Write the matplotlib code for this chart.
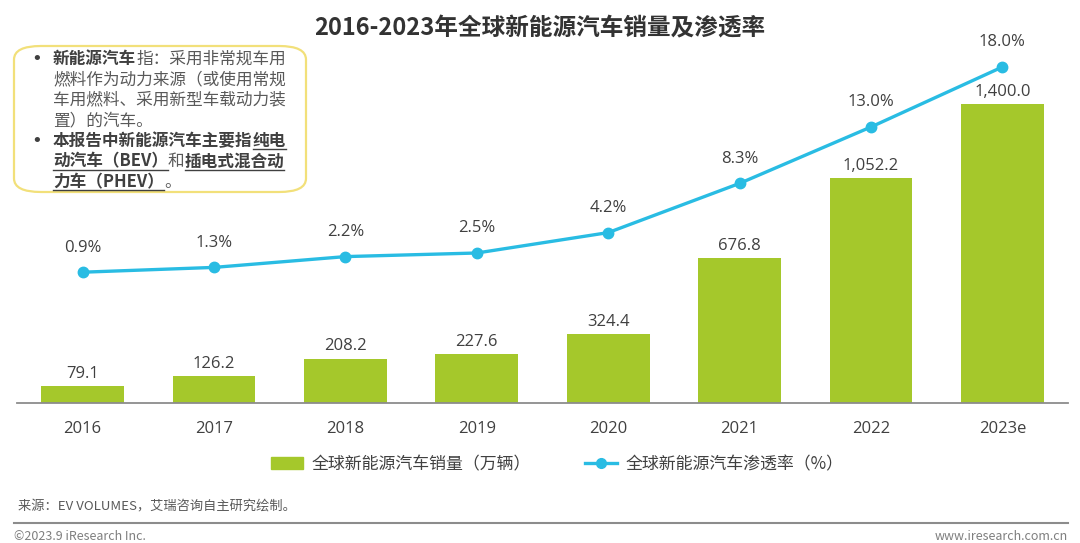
# Global NEV sales and penetration rate, 2016-2023e

import matplotlib
matplotlib.use('Agg')
import matplotlib.pyplot as plt
from matplotlib.patches import FancyBboxPatch, Patch
from matplotlib.lines import Line2D
from matplotlib.text import Annotation

plt.rcParams['font.family'] = ['Noto Sans CJK SC', 'DejaVu Sans']

# Data
years = ['2016', '2017', '2018', '2019', '2020', '2021', '2022', '2023e']
sales = [79.1, 126.2, 208.2, 227.6, 324.4, 676.8, 1052.2, 1400.0]
penetration = [0.9, 1.3, 2.2, 2.5, 4.2, 8.3, 13.0, 18.0]

bar_color = '#a5c82b'
line_color = '#29bce3'
dark = '#404040'
num_font = ['Open Sans', 'Noto Sans CJK SC']

W, H = 1080, 543
fig = plt.figure(figsize=(W / 100, H / 100), dpi=100)

# axes box in pixels
ax_left, ax_right, ax_bottom, ax_top = 17, 1068, 403, 30
ax = fig.add_axes([ax_left / W, 1 - ax_bottom / H, (ax_right - ax_left) / W, (ax_bottom - ax_top) / H])
ax_h = ax_bottom - ax_top

x = list(range(len(years)))
ax.bar(x, sales, width=0.63, color=bar_color, zorder=2)
ax.set_xlim(-0.5, len(years) - 0.5)
ax.set_ylim(0, ax_h / 0.2136)
for xi, v in zip(x, sales):
    ax.annotate(f'{v:,.1f}', (xi, v), xytext=(0, 3), textcoords='offset points',
                ha='center', va='bottom', fontsize=12, color=dark, family=num_font)

for s in ['top', 'left', 'right']:
    ax.spines[s].set_visible(False)
ax.spines['bottom'].set_color('#8c8c8c')
ax.spines['bottom'].set_linewidth(1.3)
ax.set_yticks([])
ax.set_xticks(x)
ax.set_xticklabels(years, fontsize=12, color=dark, family=num_font)
ax.tick_params(axis='x', length=0, pad=13)

# secondary axis for penetration
ax2 = ax.twinx()
zero_px = 120  # pixel height of 0% above the baseline
ax2.set_ylim(-zero_px / 12, (ax_h - zero_px) / 12)
ax2.plot(x, penetration, color=line_color, lw=2.4, marker='o', markersize=7.5, zorder=3)
for xi, v in zip(x, penetration):
    ax2.annotate(f'{v:.1f}%', (xi, v), xytext=(0, 12), textcoords='offset points',
                 ha='center', va='bottom', fontsize=12, color=dark, family=num_font)
ax2.axis('off')

# title
fig.text(0.5, 1 - 28 / H, '2016-2023年全球新能源汽车销量及渗透率', ha='center', va='center',
         fontsize=17, fontweight='bold', color='#333333')

# legend
handles = [Patch(color=bar_color),
           Line2D([0], [0], color=line_color, lw=2.4, marker='o', markersize=7)]
labels = ['全球新能源汽车销量（万辆）', '全球新能源汽车渗透率（%）']
fig.legend(handles, labels, loc='center', bbox_to_anchor=(557 / W, 1 - 464 / H), ncol=2,
           frameon=False, fontsize=12.2, handlelength=1.9, columnspacing=3.2,
           handletextpad=0.5, labelcolor='#404040')

# note box
box = FancyBboxPatch((14 / W, 1 - 192 / H), 292 / W, 146 / H,
                     boxstyle='round,pad=0,rounding_size=0.025', transform=fig.transFigure,
                     facecolor='white', edgecolor='#f2e07a', lw=1.6, zorder=5)
fig.add_artist(box)

note_lines = [
    [('新能源汽车', 'bold', False), ('指：采用非常规车用', 'normal', False)],
    [('燃料作为动力来源（或使用常规', 'normal', False)],
    [('车用燃料、采用新型车载动力装', 'normal', False)],
    [('置）的汽车。', 'normal', False)],
    [('本报告中新能源汽车主要指', 'bold', False), ('纯电', 'bold', True)],
    [('动汽车（BEV）', 'bold', True), ('和', 'normal', False), ('插电式混合动', 'bold', True)],
    [('力车（PHEV）', 'bold', True), ('。', 'normal', False)],
]
bullet_rows = [0, 4]
line_y = [59, 79.5, 100, 120.5, 141, 161.5, 182]
underlined = []
for i, (row, yy) in enumerate(zip(note_lines, line_y)):
    if i in bullet_rows:
        fig.text(31 / W, 1 - yy / H, '•', ha='left', va='center', fontsize=13,
                 color=dark, family='DejaVu Sans', zorder=6)
    prev = None
    for txt, wt, ul in row:
        col = dark if wt == 'bold' else '#595959'
        if prev is None:
            t = fig.text(53 / W, 1 - yy / H, txt, ha='left', va='center', fontsize=12,
                         fontweight=wt, color=col, zorder=6)
        else:
            t = Annotation(txt, xy=(1, 0.5), xycoords=prev, ha='left', va='center',
                           fontsize=12, fontweight=wt, color=col, zorder=6)
            fig.add_artist(t)
        if ul:
            underlined.append(t)
        prev = t

fig.canvas.draw()
renderer = fig.canvas.get_renderer()
for t in underlined:
    bb = t.get_window_extent(renderer)
    yl = (bb.y0 + 1) / H
    fig.add_artist(Line2D([bb.x0 / W, bb.x1 / W], [yl, yl], transform=fig.transFigure,
                          color=dark, lw=1.0, zorder=6))

# footer
fig.text(18 / W, 1 - 507 / H, '来源：EV VOLUMES，艾瑞咨询自主研究绘制。', ha='left', va='center',
         fontsize=9.5, color='#595959')
fig.add_artist(Line2D([14 / W, 1068 / W], [1 - 523 / H, 1 - 523 / H], transform=fig.transFigure,
                      color='#8c8c8c', lw=1.5))
fig.text(14 / W, 1 - 536 / H, '©2023.9 iResearch Inc.', ha='left', va='center',
         fontsize=9, color='#7f7f7f')
fig.text(1068 / W, 1 - 536 / H, 'www.iresearch.com.cn', ha='right', va='center',
         fontsize=9, color='#7f7f7f')

fig.savefig('out.png', dpi=100, facecolor='white')
plt.close(fig)
